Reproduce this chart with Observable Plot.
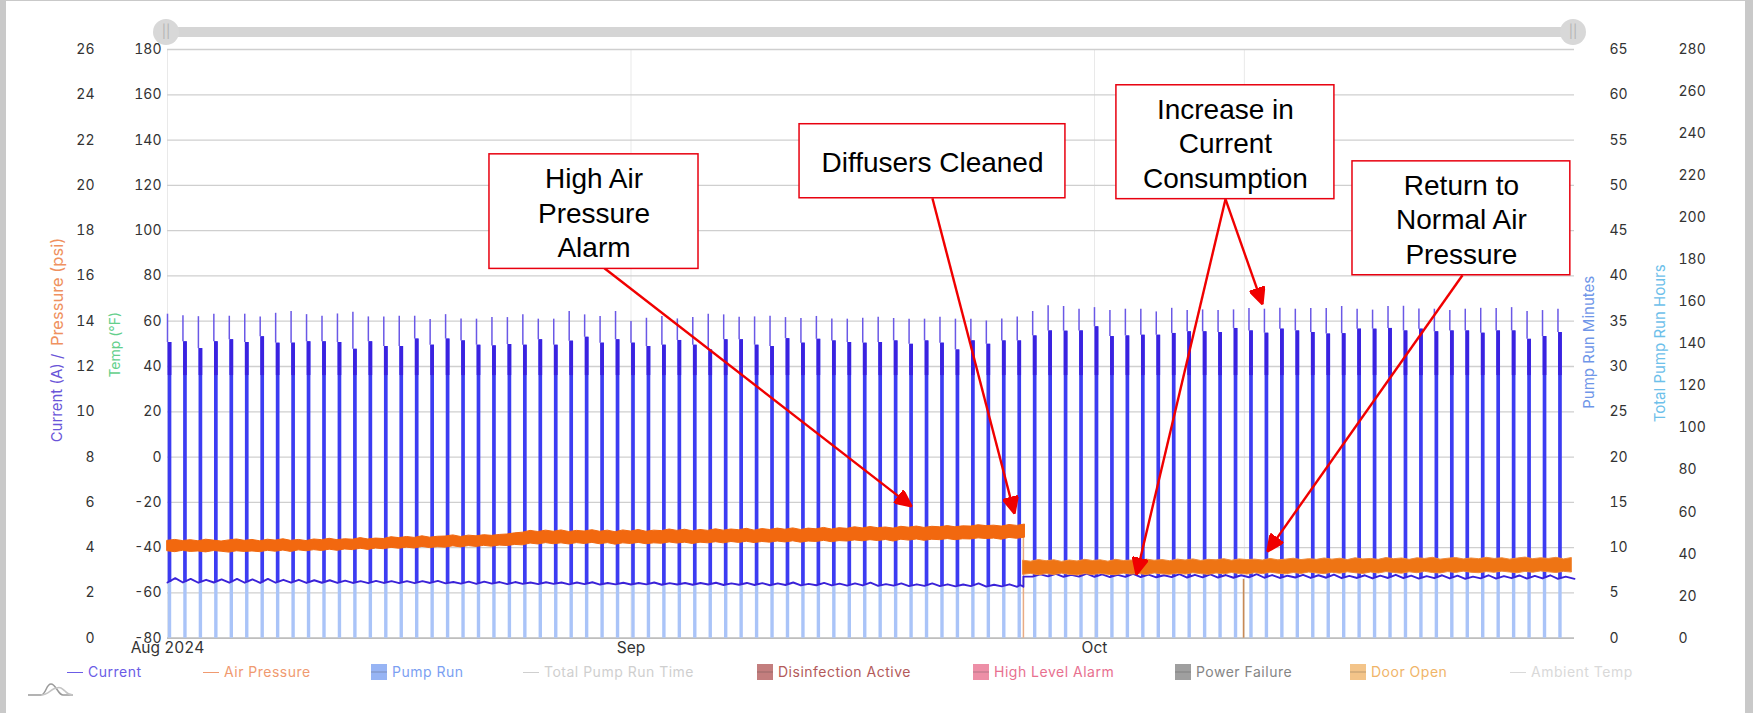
<!DOCTYPE html>
<html><head><meta charset="utf-8">
<script src="https://cdn.jsdelivr.net/npm/d3@7"></script>
<script src="https://cdn.jsdelivr.net/npm/@observablehq/plot@0.6"></script>
<style>
html,body{margin:0;padding:0;background:#fff;overflow:hidden}
#page{position:relative;width:1753px;height:713px;font-family:Inter,sans-serif}
.strip{position:absolute;background:#c9c9c9}
#track{position:absolute;left:178px;top:27px;width:1384px;height:10px;background:#d5d5d5}
.handle{position:absolute;top:19px;width:26px;height:26px;border-radius:50%;background:#d8d8d8;color:#b4b4b4;font-size:13px;line-height:25px;text-align:center}
#chart svg{display:block}
#legend{position:relative;height:53px;width:1753px}
.item{position:absolute;top:2px;height:20px;line-height:20px;font-size:14px;letter-spacing:.5px;white-space:nowrap}
.dash{position:absolute;top:9.5px;height:1.5px;width:16px;left:0}
.box{position:absolute;top:2px;left:0;width:16px;height:16px}
.box i{position:absolute;left:0;right:0;top:7px;height:2px}
.item span{position:absolute;left:21px}
</style></head><body>
<div id="page">
<div id="chart"></div>
<div id="legend"></div>
<div class="strip" style="left:0;top:0;width:6px;height:713px"></div>
<div class="strip" style="left:0;top:0;width:1753px;height:1px"></div>
<div class="strip" style="left:1745px;top:0;width:8px;height:713px"></div>
<div id="track"></div>
<div class="handle" style="left:153px">||</div>
<div class="handle" style="left:1560px">||</div>
<svg style="position:absolute;left:27px;top:682px" width="48" height="16" fill="none" stroke-width="1.5">
<path d="M1 13H14C19 13 19 2 24 2C29 2 31 13 36 13H46" stroke="#9a9a9a"/>
<path d="M14 13C22 13 24 6 30 6C34 4 36 8 38 9C40 11 41 13 46 13" stroke="#c4c4c4"/>
</svg>
</div>
<script>
// Readings: one pump cycle per day, day 0 = 2 Aug 2024
const currentTip = [14.31,14.24,14.2,14.31,14.22,14.31,14.19,14.35,14.43,14.29,14.22,14.32,14.4,14.19,14.19,14.22,14.22,14.07,14.29,14.1,14.09,14.16,14.16,
14.28,14.09,14.09,14.43,14.28,14.21,14.43,13.99,14.13,14.21,14.1,14.16,14.31,14.28,14.18,14.19,14.22,14.16,14.12,14.21,14.1,14.09,14.13,
14.18,14.12,14.09,14.09,14.18,14.09,14.09,14.01,14.1,14.19,14.43,14.68,14.65,14.53,14.6,14.47,14.53,14.53,14.41,14.57,14.47,14.5,14.47,
14.5,14.56,14.53,14.57,14.53,14.56,14.56,14.65,14.53,14.49,14.65,14.66,14.54,14.53,14.47,14.53,14.57,14.56,14.6,14.43,14.47,14.53];
const currentShoulder = [13.06,13.09,12.79,13.09,13.18,13.06,13.31,13.03,13.03,13.09,13.09,13.06,12.76,13.09,12.88,12.88,13.21,12.94,13.21,13.13,12.94,12.91,12.97,
12.94,13.18,12.94,13.12,13.29,13.03,13.18,13.03,12.88,12.94,13.15,12.94,12.73,13.18,13.18,12.94,12.88,13.23,13.03,13.2,13.13,13.06,13.03,
13.06,13.13,12.98,13.13,13.03,12.73,13.13,12.98,13.13,13.13,13.35,13.57,13.56,13.57,13.75,13.32,13.35,13.38,13.38,13.46,13.53,13.53,13.5,
13.68,13.57,13.47,13.65,13.57,13.5,13.43,13.45,13.65,13.65,13.68,13.57,13.65,13.53,13.57,13.57,13.47,13.57,13.57,13.2,13.32,13.5];
const currentBase = [2.46,2.46,2.45,2.46,2.45,2.45,2.44,2.45,2.45,2.44,
2.45,2.44,2.44,2.43,2.44,2.43,2.43,2.44,2.42,2.41,
2.40,2.41,2.39,2.40,2.39,2.40,2.38,2.39,2.37,2.38,
2.37,2.38,2.36,2.37,2.36,2.37,2.35,2.36,2.35,2.34,
2.35,2.33,2.34,2.33,2.32,2.33,2.31,2.32,2.30,2.31,
2.30,2.29,2.30,2.28,2.29,2.27,
2.72,2.73,2.71,2.72,2.71,2.70,2.71,2.70,2.69,2.70,
2.68,2.69,2.68,2.67,2.69,2.67,2.66,2.68,2.66,2.67,
2.65,2.66,2.64,2.66,2.65,2.63,2.65,2.64,2.62,2.64,
2.63,2.65,2.63,2.64,2.62];
const currentBump = [2.65,2.62,2.58,2.6,2.62,2.6,2.62,2.58,2.58,2.56,
2.56,2.54,2.52,2.53,2.52,2.52,2.52,2.53,2.48,2.50,
2.50,2.48,2.48,2.46,2.47,2.46,2.46,2.47,2.44,2.45,
2.44,2.46,2.43,2.44,2.44,2.45,2.42,2.44,2.43,2.42,
2.46,2.40,2.44,2.41,2.42,2.45,2.39,2.42,2.38,2.42,
2.38,2.37,2.42,2.36,2.38,2.35,
2.82,2.84,2.8,2.85,2.82,2.8,2.84,2.81,2.78,2.83,
2.8,2.82,2.79,2.78,2.83,2.79,2.76,2.8,2.78,2.81,
2.75,2.78,2.76,2.8,2.76,2.74,2.78,2.76,2.72,2.78,
2.74,2.77,2.75,2.78,2.72];
// half-day upper and lower edges of the air pressure trace, before and after the diffuser cleaning
const pressureHighBefore = [4.30,4.34,4.29,4.33,4.28,4.35,4.31,4.27,4.32,4.36,4.30,
4.34,4.28,4.35,4.31,4.37,4.30,4.34,4.29,4.36,4.33,
4.39,4.33,4.37,4.35,4.42,4.36,4.40,4.38,4.46,4.42,
4.47,4.43,4.50,4.44,4.48,4.49,4.54,4.47,4.53,4.50,
4.55,4.52,4.56,4.58,4.63,4.66,4.74,4.69,4.75,4.70,
4.76,4.69,4.74,4.71,4.77,4.70,4.75,4.68,4.76,4.71,
4.78,4.70,4.75,4.73,4.80,4.74,4.79,4.72,4.78,4.74,
4.81,4.75,4.80,4.77,4.83,4.75,4.82,4.78,4.84,4.79,
4.85,4.78,4.84,4.81,4.87,4.80,4.86,4.83,4.90,4.85,
4.91,4.86,4.89,4.84,4.92,4.88,4.93,4.87,4.92,4.90,
4.95,4.90,4.94,4.93,4.99,4.95,4.97,4.93,5.00,4.96,5.02];
const pressureLowBefore = [3.84,3.80,3.86,3.81,3.83,3.79,3.85,3.82,3.78,3.84,3.81,
3.83,3.80,3.86,3.82,3.87,3.81,3.88,3.84,3.89,3.85,
3.91,3.86,3.92,3.89,3.95,3.90,3.96,3.93,3.99,3.95,
4.00,3.96,4.03,3.98,4.02,4.00,4.06,4.01,4.07,4.03,
4.08,4.04,4.09,4.07,4.12,4.10,4.18,4.14,4.20,4.15,
4.19,4.14,4.20,4.16,4.21,4.15,4.20,4.13,4.19,4.16,
4.21,4.15,4.19,4.17,4.23,4.18,4.22,4.16,4.22,4.19,
4.24,4.19,4.25,4.21,4.26,4.20,4.25,4.22,4.27,4.23,
4.28,4.22,4.27,4.25,4.30,4.24,4.29,4.27,4.32,4.28,
4.33,4.29,4.34,4.27,4.35,4.31,4.36,4.30,4.35,4.33,
4.38,4.33,4.37,4.36,4.41,4.38,4.40,4.35,4.43,4.39,4.44];
const pressureHighAfter = [3.42,3.38,3.45,3.40,3.44,3.37,3.43,3.39,3.46,3.41,
3.44,3.38,3.46,3.41,3.43,3.39,3.47,3.42,3.45,3.40,
3.47,3.43,3.48,3.41,3.46,3.44,3.49,3.42,3.48,3.45,
3.47,3.43,3.50,3.44,3.47,3.51,3.45,3.49,3.46,3.52,
3.47,3.51,3.45,3.53,3.48,3.50,3.46,3.54,3.49,3.52,
3.46,3.53,3.50,3.55,3.47,3.51,3.54,3.48,3.52,3.49,
3.55,3.50,3.53,3.47,3.52,3.56,3.49,3.53,3.50,3.55,
3.48,3.54];
const pressureLowAfter = [2.80,2.84,2.78,2.83,2.79,2.85,2.80,2.77,2.83,2.79,
2.84,2.80,2.78,2.85,2.81,2.83,2.79,2.86,2.82,2.80,
2.85,2.81,2.87,2.83,2.80,2.86,2.82,2.88,2.84,2.81,
2.87,2.83,2.89,2.85,2.82,2.88,2.84,2.90,2.86,2.83,
2.89,2.85,2.91,2.87,2.84,2.90,2.86,2.92,2.88,2.85,
2.91,2.87,2.93,2.88,2.86,2.92,2.88,2.94,2.89,2.87,
2.92,2.89,2.94,2.90,2.87,2.93,2.89,2.95,2.91,2.88,
2.93,2.90];
const cleaningDay = 55.4, brownEventDay = 69.65, lastDay = 91.07;
const startDate = Date.UTC(2024,7,2);
const day = d => new Date(startDate + d*864e5);

const xTicks = [day(0), day(30), day(60)];
const xTickLabels = ["Aug 2024","Sep","Oct"];
const extraGridDay = 69.7;
const currentTicks = d3.range(0,27,2);
const tempTicks = d3.range(-80,181,20);
const minuteTicks = d3.range(0,66,5);
const hourTicks = d3.range(0,281,20);

const noteLabels = ["High Air\nPressure\nAlarm","Diffusers Cleaned","Increase in\nCurrent\nConsumption","Return to\nNormal Air\nPressure"];
const noteDay1 = [20.84,40.91,61.42,76.7], noteDay2 = [34.37,58.12,75.53,90.8];
const noteAmpTop = [21.37,22.70,24.42,21.06], noteAmpBottom = [16.31,19.43,19.39,16.03];
const arrowDayFrom = [28.28,49.51,68.48,68.48,83.82], arrowAmpFrom = [16.34,19.43,19.39,19.39,16.03];
const arrowDayTo = [48.16,54.82,62.72,70.87,71.2], arrowAmpTo = [5.82,5.51,2.81,14.75,3.83];

const legendLabels = ["Current","Air Pressure","Pump Run","Total Pump Run Time","Disinfection Active","High Level Alarm","Power Failure","Door Open","Ambient Temp"];
const legendKinds = ["line","line","box","line","box","box","box","box","line"];
const legendColors = ["#6b5ce6","#f09a70","#7b9ff2","#cfcfcf","#b35a5a","#e8708f","#858585","#f0b468","#d9d9d9"];
const legendLefts = [67,203,371,523,757,973,1175,1350,1510];

const spikes = currentTip.map((tip,i)=>({d:i,tip,shoulder:currentShoulder[i],base:currentBase[i]}));
const baseLine = [];
currentBase.forEach((v,i)=>{
  baseLine.push({d:i,v});
  if (i===55) { // the current steps up at the cleaning
    baseLine.push({d:55.2,v:currentBump[i]});
    baseLine.push({d:cleaningDay,v});
    baseLine.push({d:cleaningDay,v:currentBase[56]});
  } else baseLine.push({d:i+.5,v:currentBump[i]});
});
baseLine.push({d:lastDay,v:currentBase[90]});
const bandBefore = pressureHighBefore.map((hi,i)=>({d:i/2,hi,lo:pressureLowBefore[i]}));
const bandAfter = pressureHighAfter.map((hi,i)=>({d:Math.min(cleaningDay+i/2,lastDay),hi,lo:pressureLowAfter[i]}));
const notes = noteLabels.map((label,i)=>({label,d1:noteDay1[i],d2:noteDay2[i],top:noteAmpTop[i],bottom:noteAmpBottom[i]}));
const arrows = arrowDayFrom.map((d,i)=>({d1:d,a1:arrowAmpFrom[i],d2:arrowDayTo[i],a2:arrowAmpTo[i]}));

function filledHead(color, context){
  const ns="http://www.w3.org/2000/svg", doc=context.document;
  const m=doc.createElementNS(ns,"marker");
  m.setAttribute("viewBox","-17 -8 18 16");m.setAttribute("markerWidth",18);m.setAttribute("markerHeight",16);
  m.setAttribute("refX",0);m.setAttribute("refY",0);m.setAttribute("orient","auto");m.setAttribute("markerUnits","userSpaceOnUse");
  const p=doc.createElementNS(ns,"path");p.setAttribute("d","M0,0L-16,-7.5L-16,7.5Z");p.setAttribute("fill",color);m.appendChild(p);
  return m;
}
const axisText = {tickSize:0,label:null,fontSize:14,fill:"#333"};
const sideLabel = (text,y,fill,anchor,dx,frame,fontSize=15)=>Plot.text([text],{text:d=>d,y:()=>y,frameAnchor:frame,dx,rotate:-90,textAnchor:anchor,fill,fontSize,lineAnchor:"middle"});

const plot = Plot.plot({
  width:1753,height:660,marginLeft:167,marginRight:179,marginTop:49,marginBottom:22.3,
  style:{fontFamily:"Inter, sans-serif",fontSize:"14px",background:"transparent"},
  x:{type:"utc",domain:[day(0),day(lastDay)]},
  y:{domain:[0,26]},
  marks:[
    Plot.ruleX([day(0),day(30),day(60),day(extraGridDay)],{stroke:"#e9e9e9",strokeWidth:1}),
    Plot.gridY(currentTicks,{stroke:"#cfcfcf",strokeOpacity:1,strokeWidth:1.3}),
    Plot.ruleY([0],{stroke:"#b4b4b4",strokeWidth:1.3}),
    Plot.axisY(currentTicks,{...axisText,anchor:"left",tickPadding:73,tickFormat:d=>d}),
    Plot.axisY(tempTicks.map(t=>(t+80)/10),{...axisText,anchor:"left",tickPadding:6,tickFormat:v=>String(Math.round(v*10-80))}),
    Plot.axisY(minuteTicks.map(m=>m*.4),{...axisText,anchor:"right",tickPadding:35,tickFormat:v=>String(Math.round(v/.4))}),
    Plot.axisY(hourTicks.map(h=>h*26/280),{...axisText,anchor:"right",tickPadding:104,tickFormat:v=>String(Math.round(v*280/26))}),
    Plot.axisX(xTicks,{anchor:"bottom",tickSize:0,tickPadding:4,label:null,fontSize:15.5,fill:"#333",tickFormat:d=>xTickLabels[xTicks.findIndex(t=>+t===+d)]}),
    sideLabel("Current (A) /",8.65,"#6a55d8","start",-110,"left"),
    sideLabel("Pressure (psi)",12.9,"#ef9160","start",-110,"left",16.5),
    sideLabel("Temp (°F)",12.96,"#63cf8c","middle",-52,"left",14),
    sideLabel("Pump Run Minutes",13.07,"#6f96e8","middle",15,"right"),
    sideLabel("Total Pump Run Hours",13.02,"#6dc0ea","middle",86,"right"),
    // pump run bars
    Plot.ruleX(spikes,{x:s=>day(s.d),y1:0,y2:"base",stroke:"#aac4f8",strokeWidth:3.4,dx:2}),
    Plot.ruleX(spikes,{x:s=>day(s.d),y1:"base",y2:"shoulder",stroke:"#3c3cf2",strokeWidth:3.7,dx:2}),
    Plot.ruleX(spikes,{x:s=>day(s.d),y1:11.6,y2:"shoulder",stroke:"#3a22e0",strokeWidth:3.7,dx:2}),
    Plot.ruleX(spikes,{x:s=>day(s.d),y1:"shoulder",y2:"tip",stroke:"#6a58e6",strokeWidth:1.5}),
    // events
    Plot.ruleX([day(cleaningDay)],{y1:0,y2:4.6,stroke:"#e9ab84",strokeWidth:1.5}),
    Plot.ruleX([day(brownEventDay)],{y1:0,y2:2.6,stroke:"#c98a55",strokeWidth:1.6}),
    // current
    Plot.line(baseLine,{x:p=>day(p.d),y:"v",stroke:"#3a22d8",strokeWidth:1.9}),
    // air pressure
    Plot.areaY(bandBefore,{x:b=>day(b.d),y1:"lo",y2:"hi",fill:"#f2680f",stroke:"#f2680f",strokeWidth:1}),
    Plot.areaY(bandAfter,{x:b=>day(b.d),y1:"lo",y2:"hi",fill:"#ee7414",stroke:"#f08a3a",strokeWidth:1}),
    // callouts
    Plot.link(arrows,{x1:a=>day(a.d1),y1:"a1",x2:a=>day(a.d2),y2:"a2",stroke:"#f00000",strokeWidth:2.4,markerEnd:filledHead}),
    Plot.rect(notes,{x1:n=>day(n.d1),x2:n=>day(n.d2),y1:"bottom",y2:"top",fill:"#fff",stroke:"#e8000f",strokeWidth:1.5}),
    Plot.text(notes,{x:n=>day((n.d1+n.d2)/2),y:n=>(n.top+n.bottom)/2,text:"label",fontFamily:"Liberation Sans, Arial, sans-serif",fontSize:28,lineHeight:1.236,fill:"#000"})
  ]
});
document.getElementById("chart").appendChild(plot);

const legend=document.getElementById("legend");
legendLabels.forEach((label,i)=>{
  const el=document.createElement("div");el.className="item";el.style.left=legendLefts[i]+"px";el.style.color=legendColors[i];
  const c=legendColors[i];
  el.innerHTML=(legendKinds[i]==="line"
    ?`<div class="dash" style="background:${c}"></div>`
    :`<div class="box" style="background:${c};opacity:.78"><i style="background:${c};filter:brightness(.85)"></i></div>`)+`<span>${label}</span>`;
  legend.appendChild(el);
});
</script>
</body></html>
